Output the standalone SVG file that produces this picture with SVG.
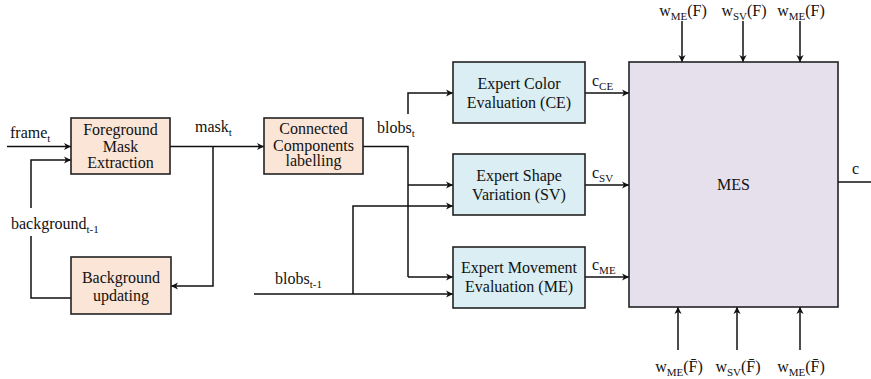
<svg xmlns="http://www.w3.org/2000/svg" width="871" height="379" viewBox="0 0 871 379" font-family="'Liberation Serif', 'DejaVu Serif', serif">
  <style>
    text { font-family: "Liberation Serif", "DejaVu Serif", serif; font-size: 16px; fill: #111; }
    .lbl { font-size: 16px; }
    .ctr { text-anchor: middle; }
    .sub { font-size: 11px; }
    .box { stroke: #222; stroke-width: 1.6; }
    .pre { fill: #fbe5d6; }
    .exp { fill: #daeef3; }
    .mes { fill: #e6e0ec; }
    .wire { fill: none; stroke: #111; stroke-width: 1.5; }
    .arr { marker-end: url(#head); }
  </style>
  <defs>
    <marker id="head" markerUnits="userSpaceOnUse" markerWidth="10" markerHeight="10" viewBox="-8 -5 10 10" refX="0" refY="0" orient="auto">
      <path d="M0,0 L-7,-3.6 L-5,0 L-7,3.6 Z" fill="#111"/>
    </marker>
  </defs>

  <!-- connectors -->
  <g id="connectors">
    <!-- inputs to foreground extraction -->
    <path class="wire arr" d="M7,146.5 H71"/>
    <path class="wire arr" d="M31,208 V160 H71"/>
    <path class="wire" d="M31,236 V298 H71"/>
    <!-- mask output -->
    <path class="wire arr" d="M170,146.5 H264"/>
    <path class="wire arr" d="M213,146.5 V286 H171"/>
    <!-- blobs_t fan-out -->
    <path class="wire" d="M363,146.5 H408 V277"/>
    <path class="wire arr" d="M408,114 V93 H453"/>
    <path class="wire arr" d="M408,185 H453"/>
    <path class="wire arr" d="M408,277 H453"/>
    <!-- blobs_t-1 -->
    <path class="wire arr" d="M254,294 H453"/>
    <path class="wire arr" d="M353,294 V206 H453"/>
    <!-- expert outputs -->
    <path class="wire arr" d="M585,93 H629"/>
    <path class="wire arr" d="M585,185 H629"/>
    <path class="wire arr" d="M585,277 H629"/>
    <!-- weights -->
    <path class="wire arr" d="M682,21 V62"/>
    <path class="wire arr" d="M743,21 V62"/>
    <path class="wire arr" d="M800,21 V62"/>
    <path class="wire arr" d="M678,350 V307"/>
    <path class="wire arr" d="M737,350 V307"/>
    <path class="wire arr" d="M800,350 V307"/>
    <!-- final output -->
    <path class="wire" d="M838,182 H871"/>
  </g>

  <!-- nodes -->
  <g id="foreground">
    <rect class="box pre" x="71" y="118" width="99" height="56"/>
    <text class="ctr" x="120.5" y="135">Foreground</text>
    <text class="ctr" x="120.5" y="151.5">Mask</text>
    <text class="ctr" x="120.5" y="168">Extraction</text>
  </g>
  <g id="background">
    <rect class="box pre" x="71" y="257" width="100" height="57"/>
    <text class="ctr" x="121" y="283">Background</text>
    <text class="ctr" x="121" y="301">updating</text>
  </g>
  <g id="components">
    <rect class="box pre" x="264" y="118" width="99" height="56"/>
    <text class="ctr" x="313.5" y="134">Connected</text>
    <text class="ctr" x="313.5" y="150.5">Components</text>
    <text class="ctr" x="313.5" y="166">labelling</text>
  </g>
  <g id="expert-ce">
    <rect class="box exp" x="453" y="62" width="132" height="61"/>
    <text class="ctr" x="519" y="89">Expert Color</text>
    <text class="ctr" x="519" y="108">Evaluation (CE)</text>
  </g>
  <g id="expert-sv">
    <rect class="box exp" x="453" y="154" width="132" height="61"/>
    <text class="ctr" x="519" y="181">Expert Shape</text>
    <text class="ctr" x="519" y="200">Variation (SV)</text>
  </g>
  <g id="expert-me">
    <rect class="box exp" x="453" y="247" width="132" height="61"/>
    <text class="ctr" x="519" y="273">Expert Movement</text>
    <text class="ctr" x="519" y="292">Evaluation (ME)</text>
  </g>
  <g id="mes">
    <rect class="box mes" x="629" y="62" width="209" height="245"/>
    <text class="ctr" x="733.5" y="190">MES</text>
  </g>

  <!-- signal labels -->
  <g id="labels">
    <text class="lbl" x="10" y="138">frame<tspan class="sub" dy="4">t</tspan></text>
    <text class="lbl" x="195" y="132">mask<tspan class="sub" dy="4">t</tspan></text>
    <text class="lbl" x="11" y="229">background<tspan class="sub" dy="4">t-1</tspan></text>
    <text class="lbl" x="377" y="133">blobs<tspan class="sub" dy="4">t</tspan></text>
    <text class="lbl" x="275" y="284">blobs<tspan class="sub" dy="4">t-1</tspan></text>
    <text class="lbl" x="592" y="86">c<tspan class="sub" dy="4">CE</tspan></text>
    <text class="lbl" x="592" y="178">c<tspan class="sub" dy="4">SV</tspan></text>
    <text class="lbl" x="592" y="270">c<tspan class="sub" dy="4">ME</tspan></text>
    <text class="lbl" x="852" y="174">c</text>

    <text class="lbl ctr" x="683" y="16">w<tspan class="sub" dy="4">ME</tspan><tspan dy="-4">(F)</tspan></text>
    <text class="lbl ctr" x="744" y="16">w<tspan class="sub" dy="4">SV</tspan><tspan dy="-4">(F)</tspan></text>
    <text class="lbl ctr" x="801" y="16">w<tspan class="sub" dy="4">ME</tspan><tspan dy="-4">(F)</tspan></text>

    <text class="lbl ctr" x="679" y="372">w<tspan class="sub" dy="4">ME</tspan><tspan dy="-4">(F̄)</tspan></text>
    <text class="lbl ctr" x="738" y="372">w<tspan class="sub" dy="4">SV</tspan><tspan dy="-4">(F̄)</tspan></text>
    <text class="lbl ctr" x="801" y="372">w<tspan class="sub" dy="4">ME</tspan><tspan dy="-4">(F̄)</tspan></text>
  </g>
</svg>
